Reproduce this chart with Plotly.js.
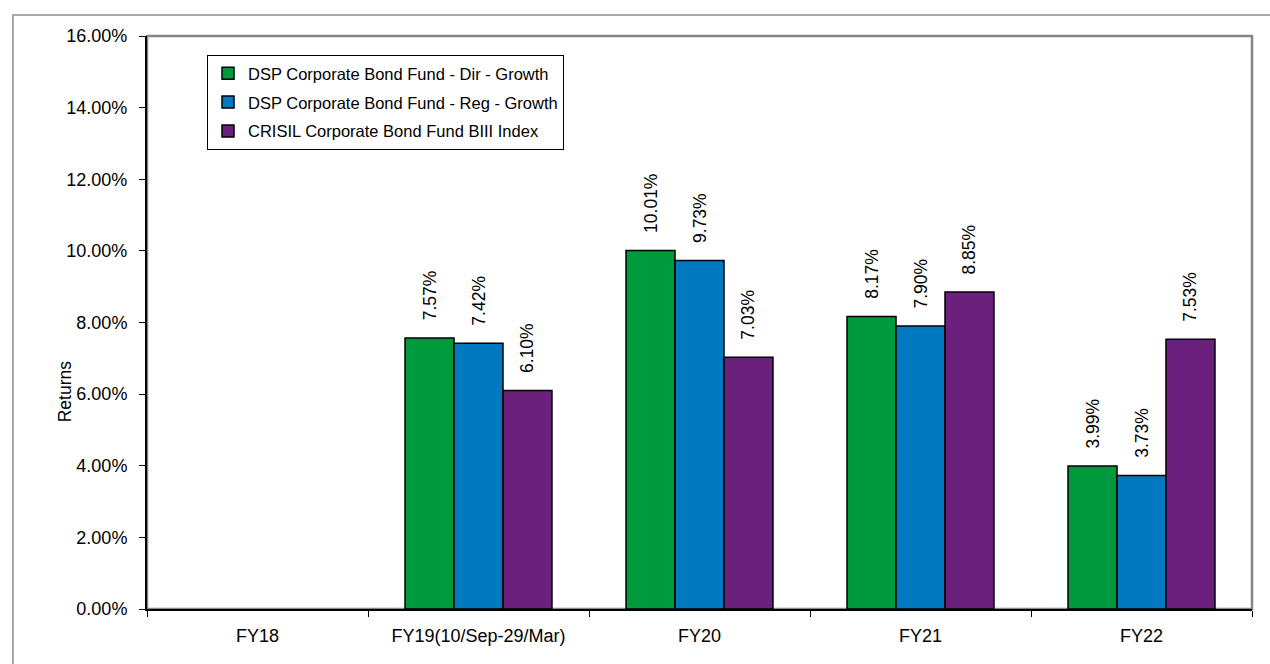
<!DOCTYPE html>
<html>
<head>
<meta charset="utf-8">
<script src="https://cdn.plot.ly/plotly-3.0.1.min.js"></script>
<style>html,body{margin:0;padding:0;background:#fff;}#chart{width:1270px;height:664px;}</style>
</head>
<body>
<div id="chart"></div>
<script>
const categories = ["FY18", "FY19(10/Sep-29/Mar)", "FY20", "FY21", "FY22"];
const seriesNames = [
  "DSP Corporate Bond Fund - Dir - Growth",
  "DSP Corporate Bond Fund - Reg - Growth",
  "CRISIL Corporate Bond Fund BIII Index"
];
const dirGrowth = [null, 7.57, 10.01, 8.17, 3.99];
const regGrowth = [null, 7.42, 9.73, 7.90, 3.73];
const crisilIndex = [null, 6.10, 7.03, 8.85, 7.53];
const yTicks = [0, 2, 4, 6, 8, 10, 12, 14, 16];
const yTickText = yTicks.map(v => v.toFixed(2) + "%");
const yTitle = "Returns";
const colors = ["#009a3e", "#0079c1", "#6a207c"];

const font = "'Liberation Sans', Arial, sans-serif";
const values = [dirGrowth, regGrowth, crisilIndex];
const pad = "\u00a0\u00a0\u00a0";
const traces = values.map((v, i) => ({
  type: "bar",
  name: seriesNames[i],
  legendgroup: "g" + i,
  x: categories,
  y: v,
  marker: {color: colors[i], line: {color: "#000", width: 1.5}},
  texttemplate: pad + "%{y:.2f}%",
  textposition: "outside",
  textangle: -90,
  constraintext: "none",
  cliponaxis: false,
  textfont: {family: font, size: 17.5, color: "#000"},
  hoverinfo: "skip"
}));

const layout = {
  width: 1270, height: 664,
  margin: {l: 147, r: 18, t: 36, b: 55},
  paper_bgcolor: "#fff", plot_bgcolor: "#fff",
  font: {family: font, size: 18, color: "#000"},
  barmode: "group",
  bargap: 0.335,
  bargroupgap: 0,
  showlegend: true,
  legend: {
    x: 0.0543, y: 0.967, xanchor: "left", yanchor: "top",
    bgcolor: "#fff", bordercolor: "#000", borderwidth: 1,
    font: {family: font, size: 16.5, color: "#000"},
    traceorder: "grouped", tracegroupgap: 4.5,
    itemwidth: 30
  },
  xaxis: {
    type: "category",
    tickson: "boundaries",
    ticks: "outside", ticklen: 6, tickcolor: "#000", tickwidth: 1,
    showline: true, linecolor: "#000", linewidth: 2,
    showgrid: false, zeroline: false,
    tickfont: {family: font, size: 18, color: "#000"},
    ticklabelstandoff: 9
  },
  yaxis: {
    range: [0, 16],
    tickvals: yTicks,
    ticktext: yTickText,
    ticks: "outside", ticklen: 6, tickcolor: "#000", tickwidth: 1,
    showline: true, linecolor: "#000", linewidth: 2,
    showgrid: false, zeroline: false,
    tickfont: {family: font, size: 18, color: "#000"},
    ticklabelstandoff: 8
  },
  annotations: [
    {text: yTitle, xref: "paper", yref: "paper", x: -0.0742, y: 0.380,
     xanchor: "center", yanchor: "middle", textangle: -90, showarrow: false,
     font: {family: font, size: 17.5, color: "#000"}}
  ],
  shapes: [
    {type: "rect", xref: "paper", yref: "paper", x0: 0, x1: 1, y0: 0, y1: 1,
     line: {color: "#868686", width: 2.5}, layer: "below"},
    {type: "rect", xref: "paper", yref: "paper", x0: -0.1213, x1: 1.05, y0: -0.2, y1: 1.0366,
     line: {color: "#8a8a8a", width: 1.5}, layer: "below"}
  ]
};

Plotly.newPlot("chart", traces, layout, {displayModeBar: false, staticPlot: true});
</script>
</body>
</html>
